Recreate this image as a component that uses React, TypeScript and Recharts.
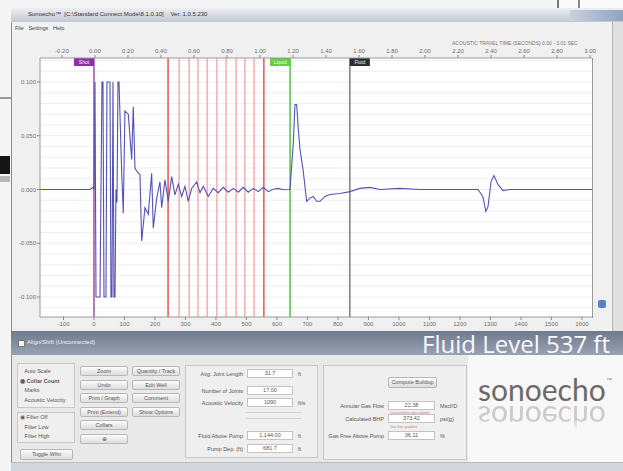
import React from "react";
import { CartesianGrid, Line, LineChart, ReferenceLine, XAxis, YAxis } from "recharts";

// Acoustic fluid-level shot: amplitude vs depth, with travel time on top.

const depthTicks = [-100, 0, 100, 200, 300, 400, 500, 600, 700, 800, 900, 1000, 1100, 1200, 1300, 1400, 1500, 1600];
const timeTicks = [-0.2, 0, 0.2, 0.4, 0.6, 0.8, 1.0, 1.2, 1.4, 1.6, 1.8, 2.0, 2.2, 2.4, 2.6, 2.8, 3.0];
const ampTicks = [-0.1, -0.05, 0, 0.05, 0.1];
const minorLevels = [
  -0.11, -0.1, -0.09, -0.08, -0.07, -0.06, -0.05, -0.04, -0.03, -0.02, -0.01, 0,
  0.01, 0.02, 0.03, 0.04, 0.05, 0.06, 0.07, 0.08, 0.09, 0.1, 0.11, 0.12,
];

// [depth, amplitude]
const shotBurst: [number, number][] = [
  [-177, 0], [-13, 0], [-3.3, 0.002], [0, 0], [3.3, 0.1], [6.6, -0.1], [19.7, -0.1],
  [26.2, 0.1], [29.5, 0.1], [32.8, -0.1], [39.3, -0.1], [42.6, 0.1], [52.5, 0.1],
  [55.7, -0.1], [59, -0.1], [62.3, 0.1], [65.6, -0.1], [68.9, -0.1], [72.1, 0],
  [75.4, -0.012], [78.7, 0.1], [82, 0.1], [90.8, 0.017], [96.1, -0.022], [101.6, 0.073],
  [112.5, 0.07], [123.6, 0.028], [128.9, 0.077], [134.4, 0.02], [140, 0.017],
  [150.8, 0.014], [156.4, -0.048], [167.2, -0.017], [178, -0.023], [189.2, 0.015],
  [194.4, -0.036], [205.6, -0.008], [216.4, 0.007], [222, -0.017],
];
const collarRing: [number, number][] = [
  [232.8, 0.009], [243.6, -0.011], [254.8, 0.012], [265.6, -0.005], [276.4, 0.005],
  [287.5, -0.0065], [298.4, 0.003], [309.2, -0.011], [320.3, 0.001], [336.7, 0.007],
  [347.5, -0.003], [358.4, 0.003], [374.8, -0.0065], [391.1, 0.001], [407.5, -0.003],
  [424, 0.002], [440.3, -0.0025], [456.7, 0.001], [473.1, -0.0025], [489.5, 0.002],
  [505.9, -0.0025], [522.3, 0.001], [538.7, -0.002], [555, 0.002], [571.5, -0.002],
  [587.9, 0.0003], [604.3, 0.001], [620.7, -0.0003], [642.6, 0],
];
const fluidEcho: [number, number][] = [
  [653.4, 0.042], [659, 0.079], [664.6, 0.079], [669.8, 0.057], [675.4, 0.038],
  [686.2, 0.017], [697.4, -0.011], [708.2, -0.008], [719, -0.0065], [730.2, -0.011],
  [741, -0.011], [757.4, -0.0065], [773.8, -0.0047], [806.6, -0.0037], [839.3, -0.002],
  [872, 0.001], [905, 0.002], [937.7, 0], [1003, 0.001], [1069, 0],
];
const tailTrace: [number, number][] = [
  [1167, 0], [1259, 0], [1275, -0.0065], [1285, -0.0205], [1292, -0.016],
  [1302, 0.0074], [1311.5, 0.013], [1324.6, 0.0047], [1341, -0.001], [1364, 0],
  [1495, 0], [1633, 0],
];

const shotMark = 0;
const collarMarks = [243, 279, 312, 341, 371, 403, 433, 466, 495, 525, 557];
const liquidMark = 643;
const fluidMark = 839;

const leftOptions = ["Auto Scale", "Collar Count", "Marks", "Acoustic Velocity"];
const filterOptions = ["Filter Off", "Filter Low", "Filter High"];
const colButtonsA = ["Zoom", "Undo", "Print / Graph", "Print (Extend)", "Collars", "\u2295"];
const colButtonsB = ["Quantity / Track", "Edit Well", "Comment", "Show Options"];
const wellLabels = ["Avg. Joint Length", "Number of Joints", "Acoustic Velocity", "Fluid Above Pump", "Pump Dep. (ft)"];
const wellValues = ["31.7", "17.00", "1090", "1,144.00", "681.7"];
const wellUnits = ["ft", "", "ft/s", "ft", "ft"];
const gasLabels = ["Annular Gas Flow", "Calculated BHP", "Gas Free Above Pump"];
const gasValues = ["22.38", "373.42", "36.11"];
const gasUnits = ["Mscf/D", "psi(g)", "%"];

const tick = { fontSize: 6, fill: "#6f6f6f" };

function tag(text: string, fill: string, side: "left" | "right") {
  return (props: any) => {
    const vb = props.viewBox || {};
    const x = side === "left" ? vb.x - 20 : vb.x;
    return (
      <g>
        <rect x={x} y={vb.y} width={20} height={8} fill={fill} />
        <text x={x + 10} y={vb.y + 6} textAnchor="middle" fontSize={5} fill="#f4f4f4">
          {text}
        </text>
      </g>
    );
  };
}

function Btn({ x, y, w, h = 9, label }: { x: number; y: number; w: number; h?: number; label: string }) {
  return (
    <div
      style={{
        position: "absolute", left: x, top: y, width: w, height: h, boxSizing: "border-box",
        border: "1px solid #b8b8b8", borderRadius: 2, background: "linear-gradient(#fcfcfc,#dcdcdc)",
        fontSize: 5.5, lineHeight: `${h - 2}px`, textAlign: "center", color: "#555",
      }}
    >
      {label}
    </div>
  );
}

function Field({ x, y, lw, iw, label, value, unit }: any) {
  return (
    <>
      <div style={{ position: "absolute", left: x, top: y, width: lw, fontSize: 5.5, textAlign: "right", color: "#555" }}>{label}</div>
      <div
        style={{
          position: "absolute", left: x + lw + 4, top: y - 2, width: iw, height: 9, boxSizing: "border-box",
          border: "1px solid #c4c4c4", background: "#fff", fontSize: 5.5, lineHeight: "7px", textAlign: "center", color: "#555",
        }}
      >
        {value}
      </div>
      <div style={{ position: "absolute", left: x + lw + iw + 9, top: y, fontSize: 5.5, color: "#555" }}>{unit}</div>
    </>
  );
}

const abs = (l: number, t: number, w: number, h: number, extra: React.CSSProperties = {}): React.CSSProperties => ({
  position: "absolute", left: l, top: t, width: w, height: h, ...extra,
});

const logoFont: React.CSSProperties = {
  position: "absolute", fontSize: 30, lineHeight: "24px", fontFamily: "Lato, 'Open Sans', sans-serif", whiteSpace: "nowrap",
};

export default function App() {
  const traceRows = [...shotBurst, ...collarRing, ...fluidEcho, ...tailTrace].map(([depth, amp]) => ({ depth, amp }));
  const timeRows = timeTicks.map((t) => ({ t, amp: 0 }));

  return (
    <div style={{ ...abs(0, 0, 623, 471), position: "fixed", overflow: "hidden", background: "#f5f5f5", fontFamily: "'Liberation Sans', Arial, sans-serif" }}>
      {/* page behind the window */}
      <div style={abs(0, 97, 11, 2, { background: "#9a9a9a" })} />
      <div style={abs(0, 156, 10, 18, { background: "#151515" })} />
      <div style={abs(0, 176, 10, 6, { background: "#b9b9b9" })} />
      <div style={abs(557, 0, 66, 10, { background: "#fafafa", borderLeft: "2px solid #777" })} />
      <div style={abs(578, 0, 2, 10, { background: "#888" })} />

      {/* window frame */}
      <div style={abs(11, 8, 612, 463, { borderLeft: "1px solid #8d8d8d", boxSizing: "border-box", background: "#ededed" })} />
      <div style={abs(11, 8, 612, 14, { background: "linear-gradient(#eceff3,#c2c8d1)", borderBottom: "1px solid #9ea5ae" })} />
      <div style={abs(570, 10, 53, 11, { background: "linear-gradient(90deg,#c9d2de,#8fa3c2)" })} />
      <div style={{ position: "absolute", left: 28, top: 11, fontSize: 6, color: "#333", whiteSpace: "nowrap" }}>
        Sonoecho™ &nbsp;[C:\Standard Connect Mode\8.1.0.10] &nbsp;&nbsp; Ver. 1.0.5.230
      </div>
      <div style={abs(12, 22, 611, 11, { background: "#f1f1f1" })} />
      <div style={{ position: "absolute", left: 15, top: 25, fontSize: 5.5, color: "#444", whiteSpace: "nowrap" }}>
        File &nbsp;&nbsp;Settings &nbsp;&nbsp;Help
      </div>

      {/* chart panel */}
      <div style={abs(12, 33, 600, 298, { background: "#f0f0f0" })} />
      <div style={abs(612, 22, 11, 309, { background: "#e0e0e0", borderLeft: "1px solid #b5b5b5" })} />
      <div style={{ position: "absolute", left: 452, top: 40, fontSize: 5, color: "#777", whiteSpace: "nowrap" }}>
        ACOUSTIC TRAVEL TIME (SECONDS) 0.00 - 3.01 SEC
      </div>
      <div style={{ position: "absolute", left: 10, top: 33 }}>
        <LineChart width={602} height={300} margin={{ top: 9, right: 20, bottom: 2, left: 0 }}>
          <CartesianGrid vertical={false} horizontalValues={minorLevels} stroke="#ededf3" fill="#ffffff" />
          <XAxis
            dataKey="depth"
            type="number"
            domain={[-177, 1633]}
            ticks={depthTicks}
            interval={0}
            allowDataOverflow
            height={14}
            tick={tick}
            tickSize={3}
            tickLine={{ stroke: "#8a8a8a" }}
            axisLine={{ stroke: "#9a9a9a" }}
          />
          <XAxis
            xAxisId="top"
            orientation="top"
            dataKey="t"
            type="number"
            domain={[-0.333, 3.012]}
            ticks={timeTicks}
            interval={0}
            allowDataOverflow
            height={16}
            tick={tick}
            tickSize={3}
            tickFormatter={(v: number) => v.toFixed(2)}
            tickLine={{ stroke: "#8a8a8a" }}
            axisLine={{ stroke: "#9a9a9a" }}
          />
          <YAxis
            type="number"
            domain={[-0.1186, 0.1223]}
            ticks={ampTicks}
            interval={0}
            allowDataOverflow
            width={30}
            tick={tick}
            tickSize={3}
            tickMargin={1}
            tickFormatter={(v: number) => v.toFixed(3)}
            tickLine={{ stroke: "#8a8a8a" }}
            axisLine={{ stroke: "#9a9a9a" }}
          />
          <Line xAxisId="top" data={timeRows} dataKey="amp" stroke="none" dot={false} isAnimationActive={false} />
          {collarMarks.map((c, i) => (
            <ReferenceLine
              key={c}
              x={c}
              stroke={i === 0 || i === collarMarks.length - 1 ? "#e8605c" : "#f29a98"}
              strokeWidth={i === 0 || i === collarMarks.length - 1 ? 1.6 : 1.2}
            />
          ))}
          <ReferenceLine x={shotMark} stroke="#a44aaa" strokeWidth={1.5} label={tag("Shot", "#8f2fa8", "left")} />
          <ReferenceLine x={liquidMark} stroke="#5cc64a" strokeWidth={1.6} label={tag("Liquid", "#5fcf3e", "left")} />
          <ReferenceLine x={fluidMark} stroke="#6b5a52" strokeWidth={1.2} label={tag("Fluid", "#2e2e2e", "right")} />
          <Line
            data={traceRows}
            dataKey="amp"
            type="linear"
            stroke="#5552b4"
            strokeWidth={1.1}
            dot={false}
            isAnimationActive={false}
          />
        </LineChart>
      </div>
      <div style={abs(592, 58, 1, 260, { background: "#9a9a9a" })} />
      <div style={abs(598, 300, 8, 8, { background: "#5a7fc4", borderRadius: 2 })} />

      {/* status bar */}
      <div style={abs(11, 331, 612, 24, { background: "linear-gradient(#6f7a8d,#99a2b3)" })} />
      <div style={abs(18, 340, 5, 5, { background: "#f3f3f3", border: "1px solid #777" })} />
      <div style={{ position: "absolute", left: 27, top: 339, fontSize: 6, color: "#eef0f4", whiteSpace: "nowrap" }}>
        Align/Shift (Unconnected)
      </div>
      <div
        style={{
          position: "absolute", right: 13, top: 327, fontSize: 24, lineHeight: "33px", color: "#f7f8fa", whiteSpace: "nowrap",
          fontFamily: "'Open Sans', 'Noto Sans', sans-serif",
        }}
      >
        Fluid Level 537 ft
      </div>

      {/* control panel */}
      <div style={abs(12, 355, 611, 107, { background: "#e9e9e9" })} />
      <div style={abs(468, 355, 155, 107, { background: "#f8f8f8" })} />
      <div style={abs(17, 363, 58, 45, { border: "1px solid #c8c8c8", background: "#efefef", boxSizing: "border-box" })} />
      {leftOptions.map((o, i) => (
        <div key={o} style={{ position: "absolute", left: 20, top: 368 + i * 9.5, fontSize: 5.5, color: "#555", whiteSpace: "nowrap", fontWeight: i === 1 ? 700 : 400 }}>
          {i === 1 ? "\u25c9" : "\u00a0\u00a0"} {o}
        </div>
      ))}
      <div style={abs(17, 412, 58, 31, { border: "1px solid #c8c8c8", background: "#efefef", boxSizing: "border-box" })} />
      {filterOptions.map((o, i) => (
        <div key={o} style={{ position: "absolute", left: 20, top: 414 + i * 9.5, fontSize: 5.5, color: "#555", whiteSpace: "nowrap" }}>
          {i === 0 ? "\u25c9" : "\u00a0\u00a0"} {o}
        </div>
      ))}
      <Btn x={20} y={449} w={53} h={11} label="Toggle Wfm" />
      {colButtonsA.map((b, i) => (
        <Btn key={b} x={80} y={366 + i * 13.5} w={48} h={10} label={b} />
      ))}
      {colButtonsB.map((b, i) => (
        <Btn key={b} x={132} y={366 + i * 13.5} w={48} h={10} label={b} />
      ))}

      <div style={abs(185, 365, 133, 93, { border: "1px solid #c8c8c8", background: "#efefef", boxSizing: "border-box" })} />
      <div style={abs(246, 412, 55, 5, { borderTop: "1px solid #d2d2d2", borderBottom: "1px solid #d2d2d2" })} />
      {wellLabels.map((l, i) => (
        <Field key={l} x={188} y={[371, 388, 400, 433, 446][i]} lw={55} iw={46} label={l} value={wellValues[i]} unit={wellUnits[i]} />
      ))}

      <div style={abs(323, 365, 144, 95, { border: "1px solid #c8c8c8", background: "#efefef", boxSizing: "border-box" })} />
      <Btn x={388} y={377} w={49} h={11} label="Compute Buildup" />
      {gasLabels.map((l, i) => (
        <Field key={l} x={326} y={[403, 416, 433][i]} lw={58} iw={47} label={l} value={gasValues[i]} unit={gasUnits[i]} />
      ))}
      <div style={{ position: "absolute", left: 390, top: 411, fontSize: 3.5, color: "#c27c7c", whiteSpace: "nowrap" }}>Corrected for gas column</div>
      <div style={{ position: "absolute", left: 390, top: 425, fontSize: 3.5, color: "#c27c7c", whiteSpace: "nowrap" }}>Gas free gradient</div>

      {/* logo */}
      <div style={{ ...logoFont, left: 478, top: 377, color: "#6e6866" }}>sonoecho</div>
      <div style={{ position: "absolute", left: 606, top: 377, fontSize: 6, color: "#8a8482", whiteSpace: "nowrap" }}>™</div>
      <div
        style={{
          ...logoFont, left: 478, top: 406, color: "#cdc9c8", transform: "scaleY(-1)",
          WebkitMaskImage: "linear-gradient(to top, #000 55%, transparent 95%)",
          maskImage: "linear-gradient(to top, #000 55%, transparent 95%)",
        }}
      >
        sonoecho
      </div>

      <div style={abs(11, 462, 612, 9, { background: "#d3d6db", borderTop: "1px solid #b9bcc1" })} />
    </div>
  );
}
